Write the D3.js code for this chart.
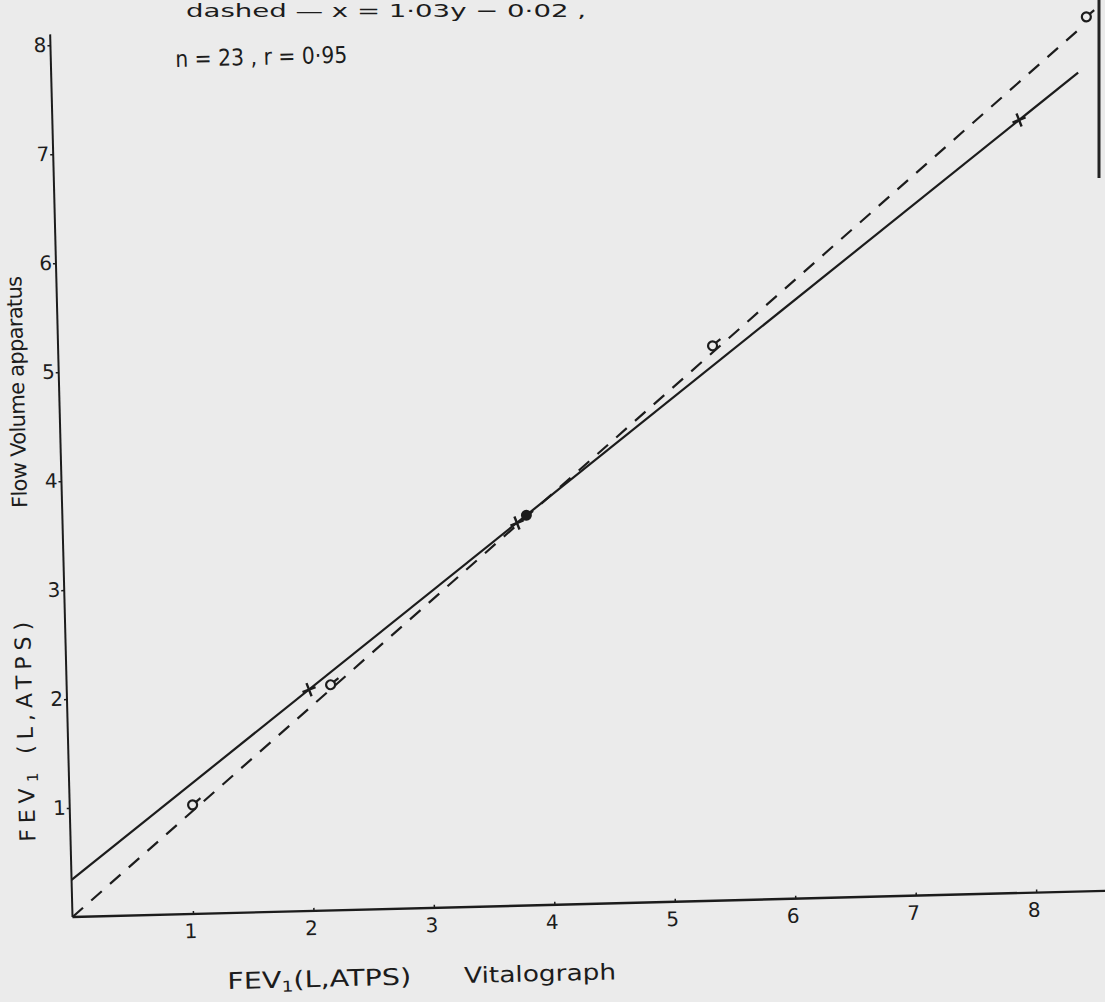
<!DOCTYPE html>
<html><head><meta charset="utf-8">
<script src="https://cdnjs.cloudflare.com/ajax/libs/d3/7.8.5/d3.min.js"></script>
<style>
html,body{margin:0;padding:0;background:#ebebeb;}
svg{display:block;}
text{font-family:"DejaVu Sans","Liberation Sans",sans-serif;fill:#1c1c1c;}
</style></head>
<body>
<script>
// ---- data ----
const xTicks = [1,2,3,4,5,6,7,8];
const yTicks = [1,2,3,4,5,6,7,8];
const crossPoints = [[2.01,2.03],[3.77,3.51],[8.02,7.09]];
const circlePoints = [[1.02,1.0],[2.19,2.07],[5.43,5.09],[8.6,8.02]];
const filledPoints = [[3.85,3.58]];
const solidLine = [[0,0.34],[8.52,7.51]];
const dashedLine = [[0,0],[8.55,7.92]];
const statText = "n = 23  ,  r = 0·95";
const headerText = "dashed  —  x = 1·03y − 0·02 ,";
const xTitle = ["FEV", "1", "(L,ATPS)", "Vitalograph"];
const yTitle = ["FEV", "1", " (L,ATPS)", "Flow Volume apparatus"];

const W = 1105, H = 1002;
const ink = "#1c1c1c";
const svg = d3.select("body").append("svg").attr("width", W).attr("height", H);
svg.append("rect").attr("width", W).attr("height", H).attr("fill", "#ebebeb");

// scan border artifact on right edge
svg.append("line").attr("x1",1099).attr("x2",1099).attr("y1",0).attr("y2",178)
  .attr("stroke","#222").attr("stroke-width",3);

// header line at very top (cut by the scan in the original)
svg.append("text").attr("x",186).attr("y",17).attr("font-size",18)
  .attr("textLength",400).attr("lengthAdjust","spacingAndGlyphs").text(headerText);

const x = d3.scaleLinear().domain([0, 8.6]).range([0, 8.6*120.5]);
const y = d3.scaleLinear().domain([0, 8.1]).range([0, -8.1*109]);

const g = svg.append("g").attr("transform","translate(72.5,917) rotate(-1.45)");

// axes
g.append("line").attr("x1",x(0)).attr("y1",0).attr("x2",x(8.6)+20).attr("y2",0)
  .attr("stroke",ink).attr("stroke-width",2.4);
g.append("line").attr("x1",0).attr("y1",y(0)).attr("x2",0).attr("y2",y(8.1))
  .attr("stroke",ink).attr("stroke-width",2);

const xAxis = d3.axisBottom(x).tickValues(xTicks).tickSize(-3).tickPadding(10).tickFormat(d3.format("d"));
const xa = g.append("g").call(xAxis);
xa.attr("font-family",null).attr("font-size",null);
xa.select(".domain").remove();
xa.selectAll("line").attr("stroke",ink).attr("stroke-width",1.5);
xa.selectAll("text").attr("font-size",20).attr("fill",ink).attr("dx",-3);

const yAxis = d3.axisLeft(y).tickValues(yTicks).tickSize(3).tickPadding(1).tickFormat(d3.format("d"));
const ya = g.append("g").call(yAxis);
ya.attr("font-family",null).attr("font-size",null);
ya.select(".domain").remove();
ya.selectAll("line").attr("stroke",ink).attr("stroke-width",1.5);
ya.selectAll("text").attr("font-size",20).attr("fill",ink).attr("dy","0.3em");

// regression lines
const line = d3.line().x(d=>x(d[0])).y(d=>y(d[1]));
g.append("path").attr("d",line(dashedLine)).attr("fill","none").attr("stroke",ink)
  .attr("stroke-width",2.2).attr("stroke-dasharray","14,11");
g.append("path").attr("d",line(solidLine)).attr("fill","none").attr("stroke",ink)
  .attr("stroke-width",2.2);

// markers
g.selectAll(".cross").data(crossPoints).enter().append("path")
  .attr("transform",d=>`translate(${x(d[0])},${y(d[1])}) rotate(-20)`)
  .attr("d","M-7,0L7,0M0,-7L0,7").attr("stroke",ink).attr("stroke-width",2.4);
g.selectAll(".circ").data(circlePoints).enter().append("g")
  .attr("transform",d=>`translate(${x(d[0])},${y(d[1])})`)
  .each(function(){
    const s=d3.select(this);
    s.append("circle").attr("r",4.5).attr("fill","none").attr("stroke",ink).attr("stroke-width",2.2);
    s.append("line").attr("x1",3.5).attr("y1",-3).attr("x2",8).attr("y2",-6.5).attr("stroke",ink).attr("stroke-width",2.2);
  });
g.selectAll(".fill").data(filledPoints).enter().append("circle")
  .attr("cx",d=>x(d[0])).attr("cy",d=>y(d[1])).attr("r",5.5).attr("fill",ink);

// annotation
g.append("text").attr("x",x(0.85)+22).attr("y",y(7.8)+3).attr("font-size",23)
  .attr("textLength",172).attr("lengthAdjust","spacingAndGlyphs").text(statText);

// x title
const xt = g.append("text").attr("x",x(1.27)).attr("y",76).attr("font-size",23)
  .attr("textLength",184).attr("lengthAdjust","spacingAndGlyphs");
xt.append("tspan").text(xTitle[0]);
xt.append("tspan").attr("font-size",15).attr("dy",4).text(xTitle[1]);
xt.append("tspan").attr("dy",-4).text(xTitle[2]);
g.append("text").attr("x",x(1.27)+237).attr("y",76).attr("font-size",22)
  .attr("textLength",152).attr("lengthAdjust","spacingAndGlyphs").text(xTitle[3]);

// y title (two parts)
const yBase = y(0.7);
const yt = g.append("text").attr("transform",`translate(-35,${yBase}) rotate(-90)`).attr("font-size",22)
  .attr("textLength",220).attr("lengthAdjust","spacing");
yt.append("tspan").text(yTitle[0]);
yt.append("tspan").attr("font-size",15).attr("dy",4).text(yTitle[1]);
yt.append("tspan").attr("dy",-4).text(yTitle[2]);
g.append("text").attr("transform",`translate(-35,${yBase-334}) rotate(-90)`).attr("font-size",21)
  .attr("textLength",232).attr("lengthAdjust","spacing").text(yTitle[3]);
</script>
</body></html>
